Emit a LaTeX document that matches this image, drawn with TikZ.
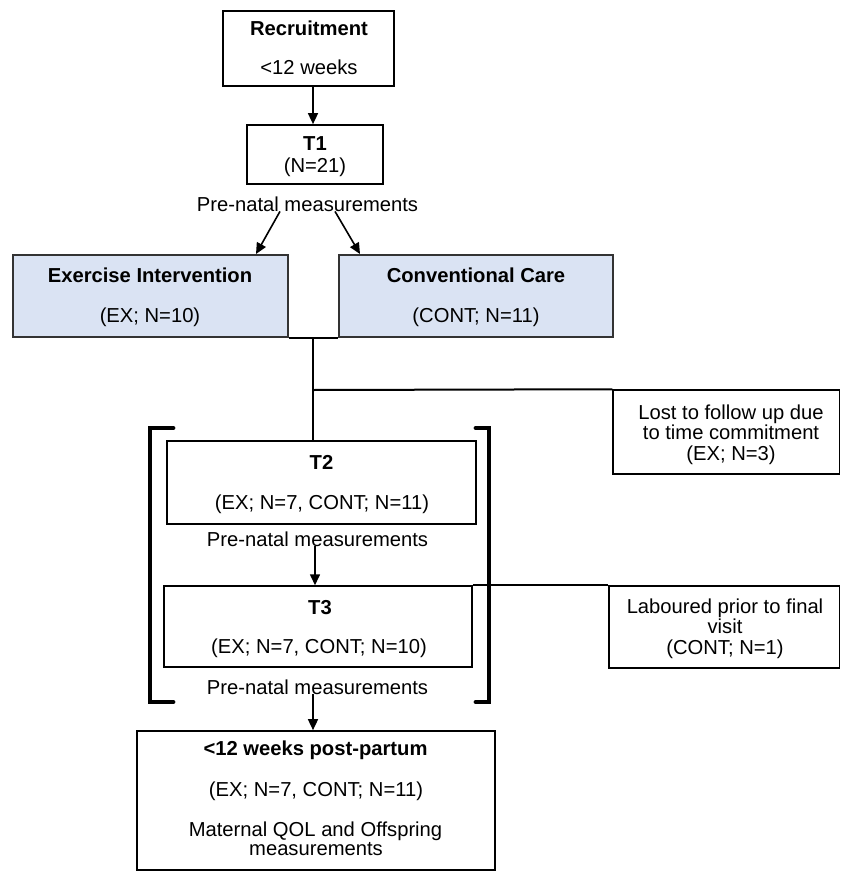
\documentclass[tikz,border=0pt]{standalone}
\usepackage{fontspec}
\setmainfont{Liberation Sans}
\usetikzlibrary{arrows.meta}
\definecolor{boxblue}{RGB}{218,227,243}
\begin{document}
\begin{tikzpicture}[x=1pt,y=-1pt,
  font=\fontsize{20.2}{21}\selectfont,
  bx/.style={draw=black, line width=1.7pt, inner sep=0pt},
  bluebx/.style={draw=black!80, fill=boxblue, line width=2pt, inner sep=0pt},
  txt/.style={anchor=base, inner sep=0pt, align=center},
  arr/.style={line width=1.6pt, -{Triangle[length=11pt,width=10pt]}},
  conn/.style={line width=2pt},
  brk/.style={line width=4.8pt, line cap=round, line join=miter}]
\useasboundingbox (0,0) rectangle (841,872);
\clip (0,0) rectangle (841,872);

% boxes
\node[bx, minimum width=171pt, minimum height=75pt] (rec) at (308.5,48.5) {};
\node[bx, minimum width=136pt, minimum height=59pt] (t1) at (315,154.5) {};
\node[bluebx, minimum width=275pt, minimum height=82pt] (ex) at (150.5,296) {};
\node[bluebx, minimum width=274pt, minimum height=82pt] (cc) at (476,296) {};
\node[bx, line width=1.5pt, minimum width=226.5pt, minimum height=84pt] (lost) at (726.25,432) {};
\node[bx, line width=1.5pt, minimum width=230.5pt, minimum height=82pt] (lab) at (724.25,627) {};
\node[bx, line width=1.5pt, minimum width=309pt, minimum height=83pt] (t2) at (321.5,482.5) {};
\node[bx, line width=1.5pt, minimum width=308pt, minimum height=81pt] (t3) at (318,626.5) {};
\node[bx, minimum width=358pt, minimum height=139pt] (post) at (316,800.5) {};

% texts
\node[txt] (recA) at (309,36) {\bfseries Recruitment};
\node[txt] (recB) at (309,75) {<12 weeks};
\node[txt] (t1A) at (315,150) {\bfseries T1};
\node[txt] (t1B) at (315,172) {(N=21)};
\node[txt] (pn1) at (307.5,211) {Pre-natal measurements};
\node[txt] (exA) at (150,282) {\bfseries Exercise Intervention};
\node[txt] (exB) at (150,322) {(EX; N=10)};
\node[txt] (ccA) at (476,282) {\bfseries Conventional Care};
\node[txt] (ccB) at (476,322) {(CONT; N=11)};
\node[txt] (lostA) at (731,419) {Lost to follow up due};
\node[txt] (lostB) at (731,439.5) {to time commitment};
\node[txt] (lostC) at (731,460) {(EX; N=3)};
\node[txt] (labA) at (725,613) {Laboured prior to final};
\node[txt] (labB) at (725,633.5) {visit};
\node[txt] (labC) at (725,654) {(CONT; N=1)};
\node[txt] (t2A) at (321.5,469) {\bfseries T2};
\node[txt] (t2B) at (322,509) {(EX; N=7, CONT; N=11)};
\node[txt] (pn2) at (317.5,546) {Pre-natal measurements};
\node[txt] (t3A) at (320,614) {\bfseries T3};
\node[txt] (t3B) at (319,653) {(EX; N=7, CONT; N=10)};
\node[txt] (pn3) at (317.5,694) {Pre-natal measurements};
\node[txt] (postA) at (315.5,755) {\bfseries <12 weeks post-partum};
\node[txt] (postB) at (316,796) {(EX; N=7, CONT; N=11)};
\node[txt] (postC) at (315.5,836) {Maternal QOL and Offspring};
\node[txt] (postD) at (316,855) {measurements};

% arrows
\draw[arr] ([xshift=4.5pt]rec.south) -- ([xshift=-2pt]t1.north);
\draw[arr] ([xshift=-27.5pt]pn1.south) -- ([xshift=105.5pt]ex.north);
\draw[arr] ([xshift=27.5pt]pn1.south) -- ([xshift=-116pt]cc.north);
\draw[arr] ([xshift=-2.5pt]pn2.south) -- ([xshift=-3pt]t3.north);
\draw[arr] ([xshift=-4.5pt]pn3.south) -- ([xshift=-3pt]post.north);

% connectors
\coordinate (gapmid) at (313,337);
\coordinate (branch) at (313,390);
\draw[conn] (ex.south east) -- (cc.south west);
\draw[conn] (gapmid) -- (gapmid |- t2.north);
\draw[conn] (branch) -- (lost.north west);
\draw[conn] (t3.north east) -- (lab.north west);

% brackets
\draw[brk] (173,428) -- (150,428) -- (150,702) -- (173,702);
\draw[brk] (476,428) -- (489,428) -- (489,702) -- (476,702);
\end{tikzpicture}
\end{document}
